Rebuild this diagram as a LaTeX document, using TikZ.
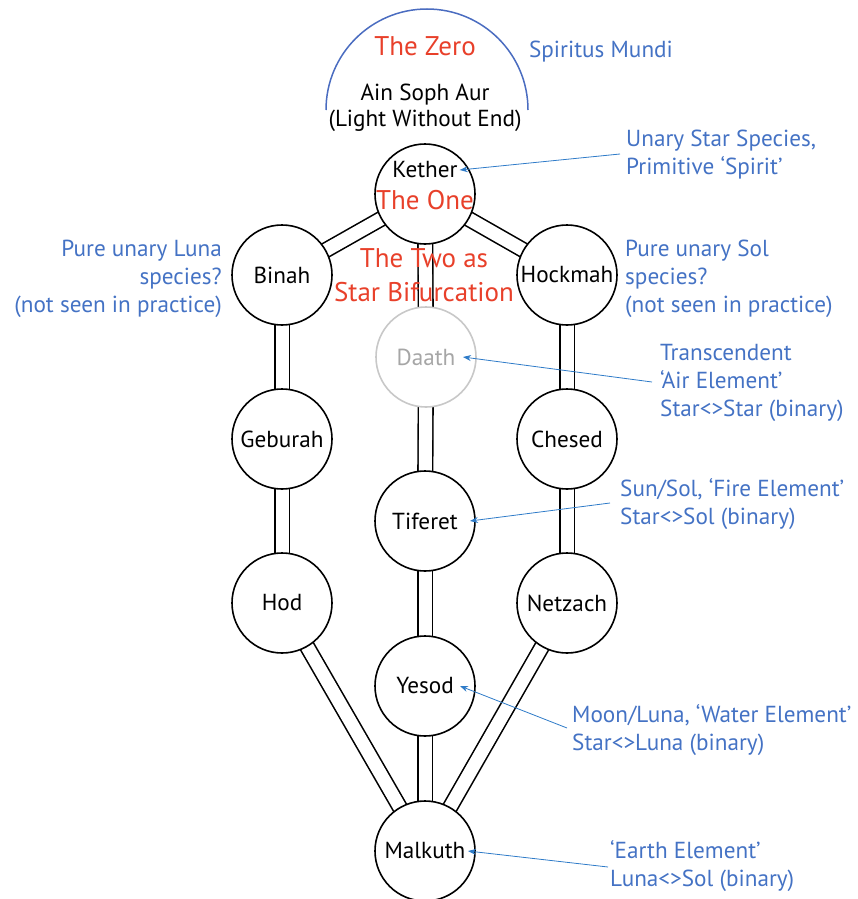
\documentclass[tikz,border=0pt]{standalone}
\usepackage{fontspec}
\setmainfont{PT Sans}
\usetikzlibrary{backgrounds,arrows.meta}
\definecolor{lblue}{HTML}{4472C4}
\definecolor{zred}{HTML}{E8402A}
\definecolor{arcblue}{HTML}{4A6CC0}
\definecolor{arrowblue}{HTML}{2E7BC8}
\definecolor{dgray}{HTML}{C8C8C8}
\definecolor{dtext}{HTML}{A6A6A6}
\begin{document}
\begin{tikzpicture}[x=1pt,y=-1pt,
  sephira/.style={circle, draw=black, line width=1.6pt, fill=white, minimum size=100pt, inner sep=0pt, font=\fontsize{23.2}{26}\selectfont},
  conn/.style={draw=black, line width=1.6pt, double=white, double distance=13pt},
  lbl/.style={text=lblue, font=\fontsize{23.2}{28}\selectfont, align=left, anchor=west, inner sep=0pt},
  lblr/.style={text=lblue, font=\fontsize{23.2}{28}\selectfont, align=right, anchor=east, inner sep=0pt},
  redtxt/.style={text=zred, font=\fontsize{27}{34}\selectfont, inner sep=0pt, align=center},
  plain/.style={text=black, font=\fontsize{23.2}{26}\selectfont, inner sep=0pt, align=center},
  note/.style={draw=arrowblue, line width=0.8pt, -{Stealth[length=8pt,width=6pt]}}]
\useasboundingbox (0,0) rectangle (858,899);

% arc of the Zero
\draw[arcblue, line width=1.5pt] (326,110) arc[start angle=180, end angle=360, radius=101];
\node[redtxt] (zero) at (425,46) {The Zero};
\node[lbl, anchor=center] (spiritus) at (601,52) {Spiritus Mundi};
\node[plain] (ain) at (425,95) {Ain Soph Aur};
\node[plain] (light) at (425,121) {(Light Without End)};

% sephiroth
\node[sephira] (kether) at (425,194) {};
\node[sephira] (binah) at (282,275) {Binah};
\node[sephira] (hockmah) at (567,275) {Hockmah};
\node[sephira, draw=dgray, text=dtext] (daath) at (426,357) {Daath};
\node[sephira] (geburah) at (282,439) {Geburah};
\node[sephira] (chesed) at (567,439) {Chesed};
\node[sephira] (tiferet) at (425,521) {Tiferet};
\node[sephira] (hod) at (282,603) {Hod};
\node[sephira] (netzach) at (567,603) {Netzach};
\node[sephira] (yesod) at (425,686) {Yesod};
\node[sephira] (malkuth) at (425,851) {Malkuth};

\node[plain] (ketherTxt) at (425,170) {Kether};
\node[redtxt] (one) at (425,200) {The One};
\node[redtxt] (two) at (424,275) {The Two as\\Star Bifurcation};

\begin{scope}[on background layer]
\draw[conn] (kether.center) -- (binah.center);
\draw[conn] (kether.center) -- (hockmah.center);
\draw[conn] (kether.center) -- (daath.center);
\draw[conn] (binah.center) -- (geburah.center);
\draw[conn] (geburah.center) -- (hod.center);
\draw[conn] (hod.center) -- (malkuth.center);
\draw[conn] (hockmah.center) -- (chesed.center);
\draw[conn] (chesed.center) -- (netzach.center);
\draw[conn] (netzach.center) -- (malkuth.center);
\draw[conn] (daath.center) -- (tiferet.center);
\draw[conn] (tiferet.center) -- (yesod.center);
\draw[conn] (yesod.center) -- (malkuth.center);
\end{scope}

% labels
\node[lbl] (lStar) at (626,154.5) {Unary Star Species,\\Primitive ‘Spirit’};
\node[lbl] (lSol) at (625,279) {Pure unary Sol\\species?\\(not seen in practice)};
\node[lblr] (lLuna) at (222,279) {Pure unary Luna\\species?\\(not seen in practice)};
\node[lbl] (lAir) at (660,383) {Transcendent\\‘Air Element’\\Star<>Star (binary)};
\node[lbl] (lFire) at (620,504) {Sun/Sol, ‘Fire Element’\\Star<>Sol (binary)};
\node[lbl] (lWater) at (572,730) {Moon/Luna, ‘Water Element’\\Star<>Luna (binary)};
\node[lbl] (lEarth) at (610,866.5) {‘Earth Element’\\Luna<>Sol (binary)};

% annotation arrows
\coordinate (aStar) at (620,154);
\coordinate (aAir) at (652,382);
\coordinate (aFire) at (610,503);
\coordinate (aWater) at (567,728);
\coordinate (aEarth) at (608,867);
\draw[note] (aStar) -- ([xshift=2pt]ketherTxt.east);
\draw[note] (aAir) -- ([xshift=37pt]daath.center);
\draw[note] (aFire) -- ([xshift=45pt]tiferet.center);
\draw[note] (aWater) -- ([xshift=35pt]yesod.center);
\draw[note] (aEarth) -- ([xshift=43pt]malkuth.center);
\end{tikzpicture}
\end{document}
